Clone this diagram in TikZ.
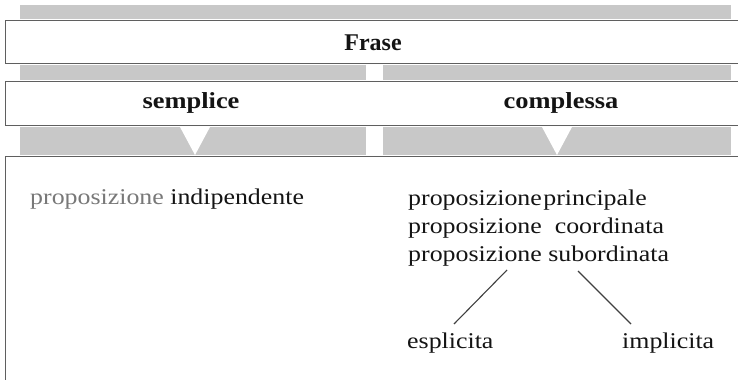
\documentclass[tikz,border=0pt]{standalone}
\usepackage{fontspec}
\setmainfont{Liberation Serif}
\newfontfamily\widefont[FakeStretch=1.15]{Liberation Serif}
\definecolor{bandgray}{RGB}{200,200,200}
\definecolor{boxline}{RGB}{95,95,95}
\definecolor{lightword}{RGB}{120,120,120}
\definecolor{inkcol}{RGB}{20,20,20}
\tikzset{
  band/.style={fill=bandgray, draw=none},
  frame/.style={draw=boxline, line width=0.9pt},
  notch/.style={fill=white, draw=none},
  headlabel/.style={inner sep=0pt, text=inkcol, font=\widefont\bfseries\fontsize{23}{27}\selectfont},
  toplabel/.style={inner sep=0pt, text=inkcol, font=\bfseries\fontsize{24}{28}\selectfont},
  itemtext/.style={inner sep=0pt, anchor=base west, text=inkcol, font=\widefont\fontsize{22.5}{27}\selectfont},
  branch/.style={draw=black!75, line width=1.1pt}
}
\begin{document}
\begin{tikzpicture}[x=1pt, y=-1pt]
\useasboundingbox (0,0) rectangle (738,380);
\fill[white] (0,0) rectangle (738,380);
% top band
\path[band] (20,5) rectangle (731,19);
% Frase box
\draw[frame] (738,20) -- (5,20) -- (5,63) -- (738,63);
\node[toplabel, anchor=base] (frase) at (373,50) {Frase};
% second band
\path[band] (20,65) rectangle (366,80);
\path[band] (383,65) rectangle (731,80);
% semplice / complessa box
\draw[frame] (738,81) -- (5,81) -- (5,125) -- (738,125);
\node[headlabel, anchor=base] (semplice) at (191,108) {semplice};
\node[headlabel, anchor=base] (complessa) at (561,108) {complessa};
% third band with notches
\path[band] (20,127) rectangle (366,155);
\path[band] (383,127) rectangle (731,155);
\path[notch] (180,127) -- (210,127) -- (195,155) -- cycle;
\path[notch] (542,127) -- (572,127) -- (557,155) -- cycle;
% main box
\draw[frame] (738,156) -- (5,156) -- (5,380);
% left column
\node[itemtext] (indip) at (30,204) {\textcolor{lightword}{proposizione} indipendente};
% right column
\node[itemtext] (princ) at (408,205) {proposizione\hspace{1.5pt}principale};
\node[itemtext] (coord) at (408,233) {proposizione\ \ coordinata};
\node[itemtext] (subord) at (408,261) {proposizione subordinata};
\node[itemtext] (espl) at (407,348) {esplicita};
\node[itemtext] (impl) at (622,348) {implicita};
\coordinate (la) at (507,270);
\coordinate (lb) at (454,324);
\coordinate (ra) at (578,271);
\coordinate (rb) at (631,324);
\draw[branch] (la) -- (lb);
\draw[branch] (ra) -- (rb);
\end{tikzpicture}
\end{document}
